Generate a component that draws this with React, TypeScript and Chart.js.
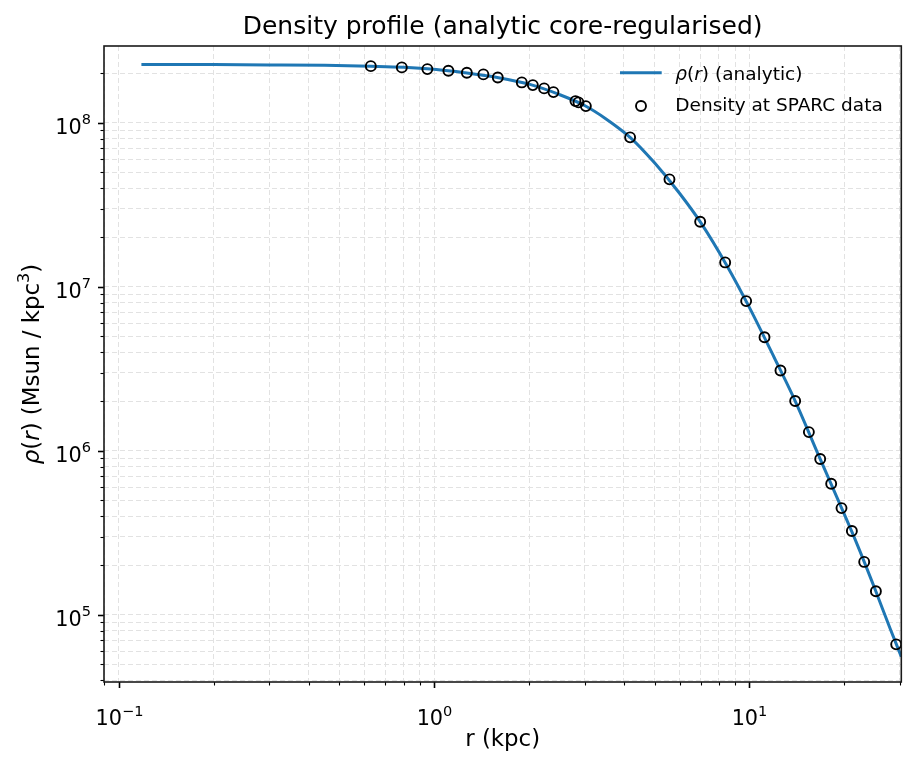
import React, { useEffect, useRef } from 'react';
import { Chart, registerables } from 'chart.js';

Chart.register(...registerables);

const FONT = '"DejaVu Sans", sans-serif';

// ---- data ----
const curveR = [0.118, 0.2, 0.3, 0.45, 0.63, 0.8, 1.0, 1.25, 1.6, 2.0, 2.5, 3.0, 3.5, 4.2, 5.0, 6.0, 7.0, 8.5, 10, 12, 14, 16.5, 19, 22, 25, 28, 30.3];
const curveRho = [2.27e8, 2.265e8, 2.255e8, 2.24e8, 2.21e8, 2.18e8, 2.12e8, 2.02e8, 1.885e8, 1.72e8, 1.485e8, 1.275e8, 1.06e8, 8.1e7, 5.7e7, 3.72e7, 2.47e7, 1.335e7, 7.46e6, 3.68e6, 1.99e6, 9.55e5, 5.12e5, 2.66e5, 1.435e5, 8.13e4, 5.55e4];

const dataR = [0.630, 0.790, 0.952, 1.110, 1.270, 1.433, 1.592, 1.897, 2.056, 2.233, 2.390, 2.807, 2.869, 3.028, 4.183, 5.576, 6.977, 8.374, 9.761, 11.16, 12.54, 13.96, 15.43, 16.76, 18.16, 19.58, 21.12, 23.11, 25.17, 29.19];
const dataRho = [2.216e8, 2.177e8, 2.125e8, 2.075e8, 2.018e8, 1.973e8, 1.891e8, 1.763e8, 1.698e8, 1.621e8, 1.539e8, 1.356e8, 1.332e8, 1.264e8, 8.15e7, 4.52e7, 2.49e7, 1.408e7, 8.18e6, 4.92e6, 3.09e6, 2.01e6, 1.30e6, 8.90e5, 6.29e5, 4.47e5, 3.24e5, 2.10e5, 1.39e5, 6.60e4];

// major ticks: value, base and exponent of the label
const xMajorTicks = [0.1, 1, 10];
const xTickExponents = ['\u22121', '0', '1'];
const yMajorTicks = [1e5, 1e6, 1e7, 1e8];
const yTickExponents = ['5', '6', '7', '8'];
const tickBase = '10';

const xMin = 0.0898;
const xMax = 30.3;
const yMin = 3.89e4;
const yMax = 2.94e8;

const titleText = 'Density profile (analytic core-regularised)';
const xTitle = 'r (kpc)';
const legendLine = 'ρ(r) (analytic)';
const legendPoints = 'Density at SPARC data';

// ---- helpers ----
function logTicks(min: number, max: number) {
  const out: number[] = [];
  for (let e = Math.floor(Math.log10(min)); e <= Math.ceil(Math.log10(max)); e++) {
    for (let m = 1; m <= 9; m++) {
      const v = m * Math.pow(10, e);
      if (v >= min * 0.9999 && v <= max * 1.0001) out.push(v);
    }
  }
  return out;
}
function majorIndex(v: number, majors: number[]) {
  return majors.findIndex((m) => Math.abs(v - m) / m < 1e-6);
}

type Seg = { t: string; italic?: boolean; sup?: boolean };
function richWidth(ctx: CanvasRenderingContext2D, segs: Seg[], size: number) {
  let total = 0;
  segs.forEach((s) => {
    ctx.font = `${s.italic ? 'italic ' : ''}${s.sup ? size * 0.7 : size}px ${FONT}`;
    total += ctx.measureText(s.t).width;
  });
  return total;
}
function drawRich(ctx: CanvasRenderingContext2D, segs: Seg[], x: number, y: number, size: number, align: 'left' | 'center' | 'right', supRise = 0.45) {
  const fontFor = (s: Seg) => `${s.italic ? 'italic ' : ''}${s.sup ? size * 0.7 : size}px ${FONT}`;
  const total = richWidth(ctx, segs, size);
  let cx = align === 'center' ? x - total / 2 : align === 'right' ? x - total : x;
  ctx.textBaseline = 'alphabetic';
  ctx.textAlign = 'left';
  segs.forEach((s) => {
    ctx.font = fontFor(s);
    ctx.fillText(s.t, cx, s.sup ? y - size * supRise : y);
    cx += ctx.measureText(s.t).width;
  });
}

const decorPlugin = {
  id: 'decor',
  afterDraw(chart: any) {
    const { ctx, chartArea: a, scales } = chart;
    const xs = scales.x;
    const ys = scales.y;
    ctx.save();
    ctx.strokeStyle = '#000';
    ctx.fillStyle = '#000';
    // tick marks and tick labels
    xs.ticks.forEach((t: any) => {
      const mi = majorIndex(t.value, xMajorTicks);
      const major = mi >= 0;
      const px = Math.round(xs.getPixelForValue(t.value)) + 0.5;
      ctx.lineWidth = major ? 1.6 : 1.1;
      ctx.beginPath();
      ctx.moveTo(px, a.bottom);
      ctx.lineTo(px, a.bottom + (major ? 6 : 3.5));
      ctx.stroke();
      if (major) {
        drawRich(ctx, [{ t: tickBase }, { t: xTickExponents[mi], sup: true }], px, a.bottom + 43, 20.8, 'center');
      }
    });
    ys.ticks.forEach((t: any) => {
      const mi = majorIndex(t.value, yMajorTicks);
      const major = mi >= 0;
      const py = Math.round(ys.getPixelForValue(t.value)) + 0.5;
      ctx.lineWidth = major ? 1.6 : 1.1;
      ctx.beginPath();
      ctx.moveTo(a.left, py);
      ctx.lineTo(a.left - (major ? 6 : 3.5), py);
      ctx.stroke();
      if (major) {
        drawRich(ctx, [{ t: tickBase }, { t: yTickExponents[mi], sup: true }], a.left - 13, py + 10, 20.8, 'right');
      }
    });
    // frame
    ctx.lineWidth = 1.6;
    ctx.strokeStyle = '#1a1a1a';
    ctx.strokeRect(a.left, a.top, a.right - a.left, a.bottom - a.top);

    // title centred over the plot area
    drawRich(ctx, [{ t: titleText }], (a.left + a.right) / 2, 34, 25, 'center');

    // y-axis title (rotated, with italic parts and superscript)
    ctx.save();
    ctx.translate(39, (a.top + a.bottom) / 2);
    ctx.rotate(-Math.PI / 2);
    drawRich(ctx, [
      { t: 'ρ', italic: true }, { t: '(' }, { t: 'r', italic: true }, { t: ') (Msun / kpc' }, { t: '3', sup: true }, { t: ')' },
    ], 0, 0, 22.9, 'center');
    ctx.restore();

    // legend (no frame)
    const dsPts = chart.data.datasets[0];
    const dsLine = chart.data.datasets[1];
    ctx.strokeStyle = dsLine.borderColor;
    ctx.lineWidth = dsLine.borderWidth;
    ctx.beginPath();
    ctx.moveTo(a.right - 281.3, a.top + 26.7);
    ctx.lineTo(a.right - 239.6, a.top + 26.7);
    ctx.stroke();
    ctx.strokeStyle = dsPts.borderColor;
    ctx.lineWidth = dsPts.borderWidth;
    ctx.beginPath();
    ctx.arc(a.right - 260.3, a.top + 60, dsPts.pointRadius, 0, Math.PI * 2);
    ctx.stroke();
    drawRich(ctx, [{ t: 'ρ', italic: true }, { t: '(' }, { t: 'r', italic: true }, { t: ') (analytic)' }], a.right - 226, a.top + 34.3, 18.5, 'left');
    drawRich(ctx, [{ t: legendPoints }], a.right - 226, a.top + 65, 18.5, 'left');
    ctx.restore();
  },
};

export default function App() {
  const ref = useRef<HTMLCanvasElement>(null);
  useEffect(() => {
    const canvas = ref.current!;
    const gridCommon = { color: '#e2e2e2', lineWidth: 1, drawTicks: false };
    const chart = new Chart(canvas, {
      type: 'scatter',
      data: {
        datasets: [
          {
            type: 'scatter',
            label: legendPoints,
            data: dataR.map((r, i) => ({ x: r, y: dataRho[i] })),
            borderColor: '#000000',
            backgroundColor: 'rgba(0,0,0,0)',
            borderWidth: 1.9,
            pointRadius: 5,
            order: 1,
          } as any,
          {
            type: 'line',
            label: legendLine,
            data: curveR.map((r, i) => ({ x: r, y: curveRho[i] })),
            borderColor: '#1f77b4',
            borderWidth: 3,
            pointRadius: 0,
            fill: false,
            cubicInterpolationMode: 'monotone',
            order: 2,
          } as any,
        ],
      },
      options: {
        animation: false,
        responsive: false,
        devicePixelRatio: 1,
        events: [],
        layout: { padding: { left: 0, right: 15.7, top: 46, bottom: 0 } },
        plugins: {
          legend: { display: false },
          tooltip: { enabled: false },
          title: { display: false },
        },
        scales: {
          x: {
            type: 'logarithmic',
            min: xMin,
            max: xMax,
            bounds: 'data',
            afterBuildTicks: (scale: any) => {
              scale.ticks = logTicks(xMin, xMax).map((v) => ({ value: v, major: majorIndex(v, xMajorTicks) >= 0 }));
            },
            afterFit: (scale: any) => {
              scale.height = 85;
              scale.paddingLeft = 0;
              scale.paddingRight = 0;
            },
            ticks: { display: false, autoSkip: false, maxRotation: 0, padding: 0 },
            grid: gridCommon,
            border: { display: false, dash: [5, 3] },
            title: {
              display: true,
              text: xTitle,
              color: '#000',
              font: { family: FONT, size: 22.9 },
              padding: { top: 0, bottom: 13 },
            },
          },
          y: {
            type: 'logarithmic',
            min: yMin,
            max: yMax,
            bounds: 'data',
            afterBuildTicks: (scale: any) => {
              scale.ticks = logTicks(yMin, yMax).map((v) => ({ value: v, major: majorIndex(v, yMajorTicks) >= 0 }));
            },
            afterFit: (scale: any) => {
              scale.width = 104;
              scale.paddingTop = 0;
              scale.paddingBottom = 0;
            },
            ticks: { display: false, autoSkip: false, padding: 0 },
            grid: gridCommon,
            border: { display: false, dash: [5, 3] },
          },
        },
      } as any,
      plugins: [decorPlugin],
    });
    return () => chart.destroy();
  }, []);
  return (
    <div style={{ position: 'fixed', left: 0, top: 0, width: 917, height: 767, background: '#fff' }}>
      <canvas ref={ref} width={917} height={767} style={{ display: 'block', width: 917, height: 767 }} />
    </div>
  );
}
